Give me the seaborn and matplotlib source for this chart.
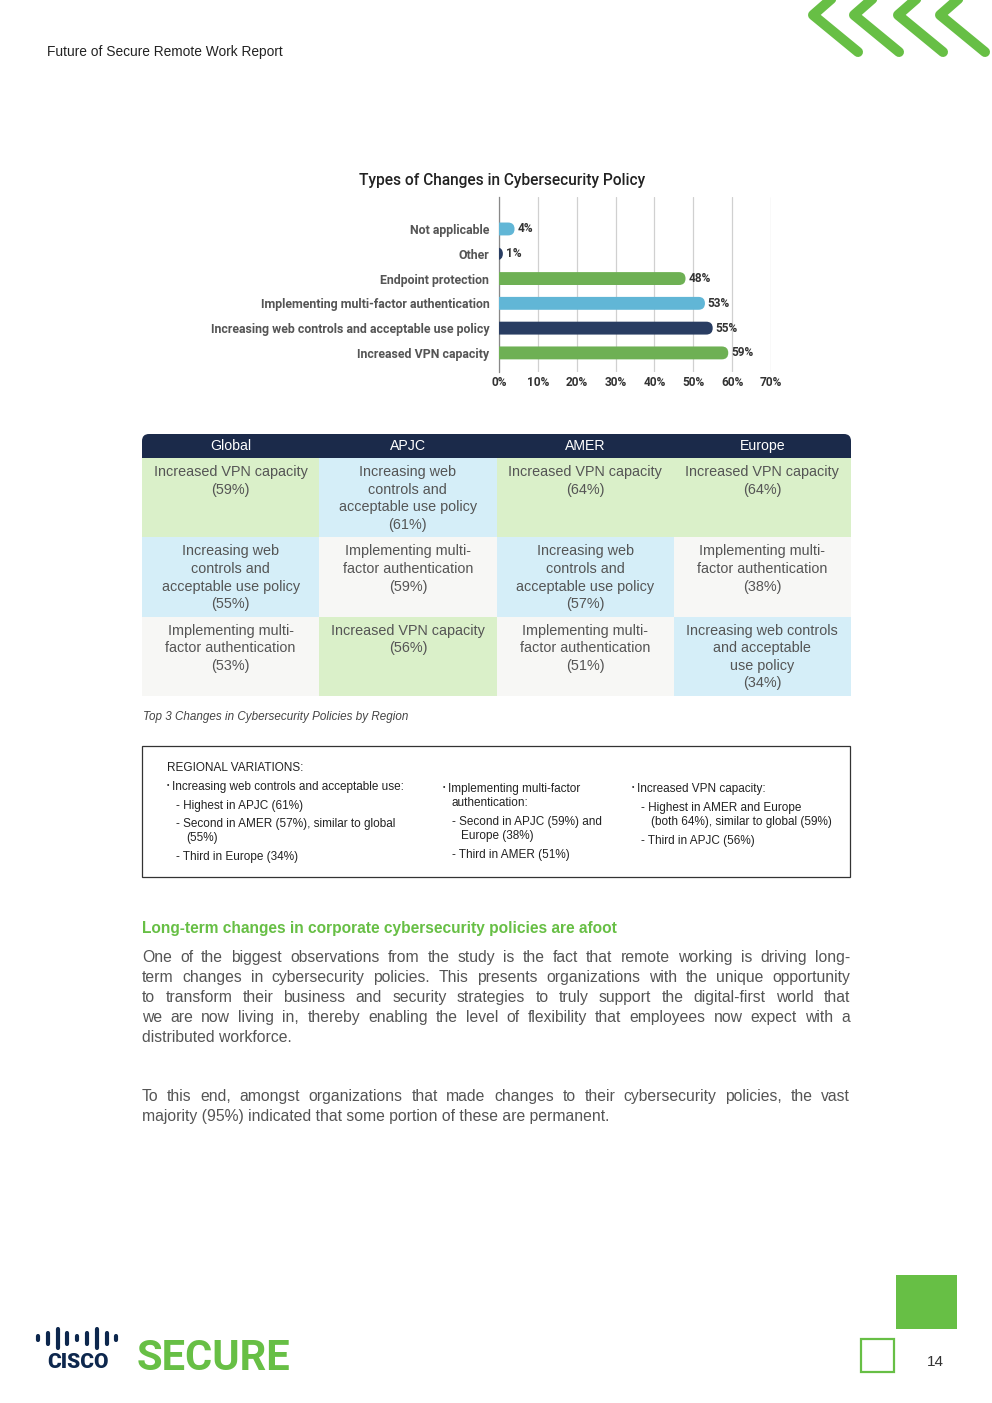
import numpy as np
import pandas as pd
import matplotlib.pyplot as plt
import seaborn as sns
from matplotlib.colors import ListedColormap
from matplotlib.patches import FancyBboxPatch, Rectangle
from matplotlib.lines import Line2D

# =====================================
# DATA
# =====================================

changes = [
    "Not applicable",
    "Other",
    "Endpoint protection",
    "Implementing multi-factor authentication",
    "Increasing web controls and acceptable use policy",
    "Increased VPN capacity",
]
shares = [4, 1, 48, 53, 55, 59]
bar_colors = ["#4DBFEA", "#1F3B6B", "#67BF45", "#4DBFEA", "#1F3B6B", "#67BF45"]
x_ticks = [0, 10, 20, 30, 40, 50, 60, 70]

regions = ["Global", "APJC", "AMER", "Europe"]

# top 3 per region (rank rows), kind: vpn / web / mfa
rank1_kind = ["vpn", "web", "vpn", "vpn"]
rank1_text = ["Increased VPN capacity",
              "Increasing web\ncontrols and\nacceptable use policy",
              "Increased VPN capacity",
              "Increased VPN capacity"]
rank1_pct = [59, 61, 64, 64]

rank2_kind = ["web", "mfa", "web", "mfa"]
rank2_text = ["Increasing web\ncontrols and\nacceptable use policy",
              "Implementing multi-\nfactor authentication",
              "Increasing web\ncontrols and\nacceptable use policy",
              "Implementing multi-\nfactor authentication"]
rank2_pct = [55, 59, 57, 38]

rank3_kind = ["mfa", "vpn", "mfa", "web"]
rank3_text = ["Implementing multi-\nfactor authentication",
              "Increased VPN capacity",
              "Implementing multi-\nfactor authentication",
              "Increasing web controls\nand acceptable\nuse policy"]
rank3_pct = [53, 56, 51, 34]

kind_codes = {"vpn": 0, "web": 1, "mfa": 2}
cell_colors = ["#DAF0C9", "#D5EEF8", "#F7F7F5"]

GREEN = "#67BF45"
NAVY = "#1B2A4A"
TEXT = "#555555"
SANS = ['Liberation Sans', 'DejaVu Sans']

# =====================================
# FIGURE
# =====================================

sns.set_theme(style="white")
plt.rcParams['font.family'] = ['Roboto', 'DejaVu Sans']

W, H = 992, 1403
fig = plt.figure(figsize=(W / 100, H / 100), dpi=100)


def px(x):
    return x / W


def py(y):
    return 1 - y / H


# header text
fig.text(px(47), py(52), "Future of Secure Remote Work Report", fontsize=9.9,
         color="#222222", va="center", ha="left", family=SANS)

# chevrons top right
for tip_x in [813, 854, 898, 940]:
    xs = [tip_x + 24, tip_x, tip_x + 45]
    ys = [-6, 15, 52]
    fig.add_artist(Line2D([px(v) for v in xs], [py(v) for v in ys],
                          transform=fig.transFigure, color=GREEN, lw=7.2,
                          solid_capstyle="round", solid_joinstyle="round"))

# =====================================
# BAR CHART
# =====================================

ax = fig.add_axes([px(499), py(372), px(771) - px(499), (372 - 197) / H])

bar_df = pd.DataFrame({"change": changes, "share": shares})

sns.barplot(data=bar_df, x="share", y="change", hue="change",
            palette=bar_colors, orient="h", width=0.52, legend=False,
            ax=ax, zorder=3)

# rounded right ends
x_per_px = 70 / (771 - 499)
y_per_px = 1 / 24.8
for patch in ax.patches:
    patch.set_visible(False)
    x0, y0 = patch.get_x(), patch.get_y()
    w, h = patch.get_width(), patch.get_height()
    r = (h / 2) / y_per_px * x_per_px
    rb = FancyBboxPatch((x0 - 2 * r, y0), w + 2 * r, h,
                        boxstyle=f"round,pad=0,rounding_size={r}",
                        mutation_aspect=(h / 2) / r,
                        facecolor=patch.get_facecolor(), edgecolor="none",
                        zorder=3)
    ax.add_patch(rb)

for c in ax.containers:
    ax.bar_label(c, fmt="%d%%", padding=2, fontsize=8.6, fontweight="bold",
                 color="#333333")

ax.set_xlim(0, 70)
ax.set_ylim(5.77, -1.29)
ax.set_xticks(x_ticks)
ax.set_xticklabels([f"{t}%" for t in x_ticks])
ax.set_xlabel("")
ax.set_ylabel("")
ax.grid(axis="x", color="#D0D0D0", lw=0.9, zorder=0)
for s in ["top", "right", "bottom"]:
    ax.spines[s].set_visible(False)
ax.spines["left"].set_color("#888888")
ax.spines["left"].set_linewidth(0.9)
ax.tick_params(axis="y", length=0, pad=7, labelsize=8.9, labelcolor="#555555")
ax.tick_params(axis="x", length=0, pad=3, labelsize=8.6, labelcolor="#333333")
for lab in ax.get_yticklabels():
    lab.set_fontweight("bold")
for lab in ax.get_xticklabels():
    lab.set_fontweight("bold")

fig.text(px(502), py(181), "Types of Changes in Cybersecurity Policy",
         fontsize=11.2, color="#222222", ha="center", va="center",
         fontweight="medium")

# =====================================
# TABLE (heatmap)
# =====================================

header = FancyBboxPatch((px(142), py(470)), px(851) - px(142), (470 - 434) / H,
                        boxstyle=f"round,pad=0,rounding_size={7 / W}",
                        mutation_aspect=W / H, transform=fig.transFigure,
                        facecolor=NAVY, edgecolor="none", zorder=-1)
fig.patches.append(header)

col_w = (851 - 142) / 4
for j, reg in enumerate(regions):
    fig.text(px(142 + col_w * (j + 0.5)), py(446), reg, color="white",
             fontsize=10.2, ha="center", va="center", family=SANS)

kinds = [rank1_kind, rank2_kind, rank3_kind]
texts = [rank1_text, rank2_text, rank3_text]
pcts = [rank1_pct, rank2_pct, rank3_pct]

code_matrix = np.array([[kind_codes[k] for k in row] for row in kinds])

tax = fig.add_axes([px(142), py(696), px(851) - px(142), (696 - 458) / H])
sns.heatmap(code_matrix, cmap=ListedColormap(cell_colors), vmin=-0.5, vmax=2.5,
            cbar=False, xticklabels=False, yticklabels=False, linewidths=0,
            ax=tax)

for i in range(3):
    for j in range(4):
        tax.text(j + 0.5, i + 0.09, f"{texts[i][j]}\n({pcts[i][j]}%)",
                 ha="center", va="top", multialignment="center",
                 fontsize=10.4, color=TEXT, linespacing=1.32, family=SANS)

fig.text(px(143), py(717), "Top 3 Changes in Cybersecurity Policies by Region",
         fontsize=8.4, style="italic", color="#444444", ha="left", va="center",
         family=SANS)

# =====================================
# REGIONAL VARIATIONS BOX
# =====================================

fig.patches.append(Rectangle((px(142), py(877)), px(850) - px(142), (877 - 746) / H,
                             transform=fig.transFigure, fill=False,
                             edgecolor="#333333", lw=0.9))

box_font = dict(fontsize=8.5, color="#222222", ha="left", va="baseline",
                family=SANS)
fig.text(px(167), py(771), "REGIONAL VARIATIONS:", **box_font)

box_lines = [
    (167, 786, "• Increasing web controls and acceptable use:"),
    (176, 805, "- Highest in APJC (61%)"),
    (176, 823, "- Second in AMER (57%), similar to global"),
    (186, 837, "(55%)"),
    (176, 856, "- Third in Europe (34%)"),
    (443, 788, "• Implementing multi-factor"),
    (451, 802, "authentication:"),
    (452, 821, "- Second in APJC (59%) and"),
    (461, 835, "Europe (38%)"),
    (452, 854, "- Third in AMER (51%)"),
    (632, 788, "• Increased VPN capacity:"),
    (641, 807, "- Highest in AMER and Europe"),
    (651, 821, "(both 64%), similar to global (59%)"),
    (641, 840, "- Third in APJC (56%)"),
]
for bx, by, t in box_lines:
    if t.startswith("•"):
        fig.text(px(bx), py(by), "•", fontsize=5, color="#222222",
                 ha="left", va="center", family=SANS)
        fig.text(px(bx + 5), py(by + 4), t[2:], **box_font)
    else:
        fig.text(px(bx), py(by + 4), t, **box_font)

# =====================================
# BODY TEXT
# =====================================

fig.text(px(142), py(928),
         "Long-term changes in corporate cybersecurity policies are afoot",
         fontsize=11.2, color=GREEN, fontweight="bold", ha="left", va="center",
         family=SANS)

renderer = fig.canvas.get_renderer()
body_font = dict(fontsize=11.3, color=TEXT, va="baseline", ha="left", family=SANS)


def justify(lines, y0, step, x0=142, x1=850):
    # y0 is the baseline of the first line
    for k, line in enumerate(lines):
        y = y0 + k * step
        if k == len(lines) - 1:
            fig.text(px(x0), py(y), line, **body_font)
            continue
        words = line.split()
        arts = [fig.text(0, py(y), wd, **body_font) for wd in words]
        widths = [a.get_window_extent(renderer).width for a in arts]
        gap = ((x1 - x0) - sum(widths)) / (len(words) - 1)
        x = x0
        for a, wd in zip(arts, widths):
            a.set_x(px(x))
            x += wd + gap


para1 = [
    "One of the biggest observations from the study is the fact that remote working is driving long-",
    "term changes in cybersecurity policies. This presents organizations with the unique opportunity",
    "to transform their business and security strategies to truly support the digital-first world that",
    "we are now living in, thereby enabling the level of flexibility that employees now expect with a",
    "distributed workforce.",
]
para2 = [
    "To this end, amongst organizations that made changes to their cybersecurity policies, the vast",
    "majority (95%) indicated that some portion of these are permanent.",
]
justify(para1, 962, 20)
justify(para2, 1101, 20)

# =====================================
# FOOTER
# =====================================

fig.patches.append(Rectangle((px(896), py(1329)), px(957) - px(896), (1329 - 1275) / H,
                             transform=fig.transFigure, facecolor=GREEN,
                             edgecolor="none"))
fig.patches.append(Rectangle((px(861), py(1372)), px(894) - px(861), (1372 - 1339) / H,
                             transform=fig.transFigure, fill=False,
                             edgecolor=GREEN, lw=1.6))
fig.text(px(935), py(1362), "14", fontsize=11, color="#333333",
         ha="center", va="center", family=SANS)

# cisco logo bars
bar_h = [4, 11, 19, 11, 4, 11, 19, 11, 4]
for k, hh in enumerate(bar_h):
    bx = 38 + k * 9.8
    fig.add_artist(Line2D([px(bx), px(bx)], [py(1338 - hh / 2), py(1338 + hh / 2)],
                          transform=fig.transFigure, color="#0D274D", lw=3.0,
                          solid_capstyle="round"))
fig.text(px(78), py(1362), "CISCO", fontsize=15, fontweight="black",
         color="#0D274D", ha="center", va="center")
fig.text(px(137), py(1359), "SECURE", fontsize=30, fontweight="bold",
         color=GREEN, ha="left", va="center")

fig.savefig("out.png", dpi=100)
